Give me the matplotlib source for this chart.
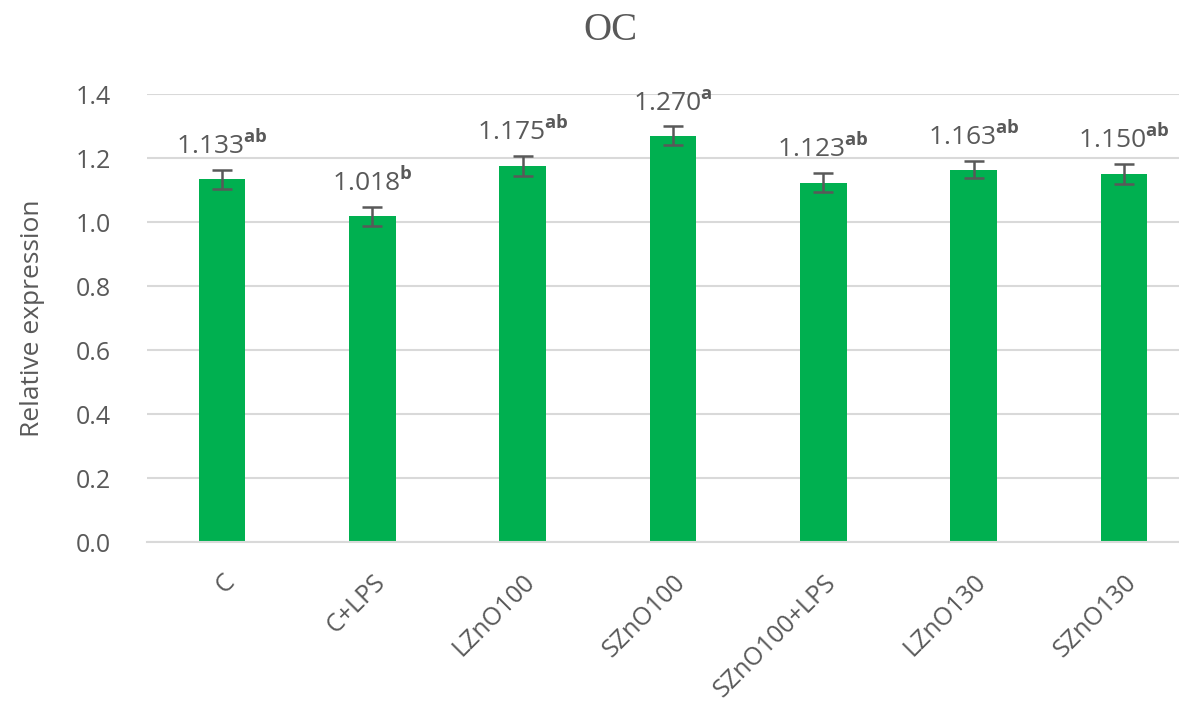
import numpy as np
import matplotlib.pyplot as plt

plt.rcParams['font.family'] = 'Open Sans'
plt.rcParams['mathtext.fontset'] = 'custom'
plt.rcParams['mathtext.rm'] = 'Open Sans'
plt.rcParams['mathtext.bf'] = 'Open Sans:bold'

# Expression data
grupos = ['C', 'C+LPS', 'LZnO100', 'SZnO100', 'SZnO100+LPS', 'LZnO130', 'SZnO130']
expressao = [1.133, 1.018, 1.175, 1.270, 1.123, 1.163, 1.150]
erro = [0.03, 0.03, 0.03, 0.03, 0.03, 0.027, 0.03]
letras = ['ab', 'b', 'ab', 'a', 'ab', 'ab', 'ab']

cinza = '#595959'
verde = '#00B050'

fig = plt.figure(figsize=(11.79, 7.01), dpi=100)
ax = fig.add_axes([147 / 1179, 159 / 701, 1052 / 1179, 448 / 701])

x = np.arange(len(grupos))
ax.bar(x, expressao, width=0.31, color=verde, zorder=2)
ax.errorbar(x, expressao, yerr=erro, fmt='none', ecolor=cinza, elinewidth=1.8,
            capsize=7, capthick=1.8, zorder=3)

for xi, v, e, l in zip(x, expressao, erro, letras):
    ax.text(xi, v + e + 0.05, r'$\mathrm{%.3f}^{\mathbf{%s}}$' % (v, l),
            ha='center', va='baseline', fontsize=19, color=cinza)

ax.set_xlim(-0.5, 6.5)
ax.set_ylim(0, 1.4)
ax.set_yticks(np.arange(0, 1.41, 0.2))
ax.set_yticklabels([f'{t:.1f}' for t in np.arange(0, 1.41, 0.2)])
ax.set_xticks(x)
ax.set_xticklabels(grupos, rotation=45, ha='right', rotation_mode='anchor')
ax.tick_params(axis='both', length=0, labelsize=18, labelcolor=cinza)
ax.tick_params(axis='x', pad=20)
ax.tick_params(axis='y', pad=26)

ax.grid(axis='y', color='#d9d9d9', linewidth=1.5, zorder=0)
ax.set_axisbelow(True)
for s in ['top', 'right', 'left']:
    ax.spines[s].set_visible(False)
ax.spines['bottom'].set_color('#d9d9d9')
ax.spines['bottom'].set_linewidth(1.5)

ax.set_ylabel('Relative expression', fontsize=19, color=cinza, labelpad=22)
fig.text(610 / 1179, 1 - 30 / 701, 'OC', ha='center', va='center',
         fontsize=28, color=cinza, family='Liberation Serif')

fig.savefig('out.png', dpi=100)
